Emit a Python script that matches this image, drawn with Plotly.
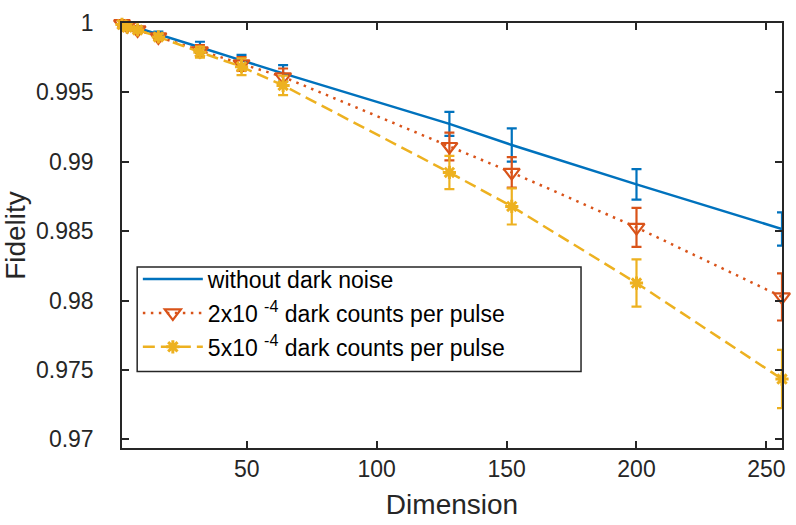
import plotly.graph_objects as go

dimension = [2, 4, 8, 16, 32, 48, 64, 128, 152, 200, 256]

fid_clean = [1.0, 0.99988, 0.99965, 0.99918, 0.99825, 0.99731, 0.99637, 0.99273, 0.99121, 0.98837, 0.98515]
err_clean = [0.00005, 0.0001, 0.0001, 0.0002, 0.0004, 0.0004, 0.0006, 0.00087, 0.0012, 0.0011, 0.0012]

fid_2e4 = [0.99995, 0.9998, 0.9995, 0.9990, 0.9980, 0.99705, 0.99612, 0.9911, 0.98923, 0.98527, 0.98026]
err_2e4 = [0.00005, 0.0001, 0.0001, 0.0002, 0.0004, 0.0005, 0.0006, 0.001, 0.0011, 0.0014, 0.0017]

fid_5e4 = [0.9999, 0.9997, 0.9995, 0.9990, 0.9979, 0.99685, 0.9955, 0.98923, 0.98678, 0.98126, 0.97434]
err_5e4 = [0.0001, 0.0001, 0.0001, 0.0002, 0.0004, 0.0006, 0.0007, 0.0012, 0.0013, 0.0017, 0.0021]

labels = ["without dark noise",
          "2x10 <sup>-4</sup> dark counts per pulse",
          "5x10 <sup>-4</sup> dark counts per pulse"]

y_tickvals = [0.97, 0.975, 0.98, 0.985, 0.99, 0.995, 1.0]
y_ticktext = ["0.97", "0.975", "0.98", "0.985", "0.99", "0.995", "1"]
x_tickvals = [50, 100, 150, 200, 250]

BLUE = "#0072BD"
ORANGE = "#D95319"
YELLOW = "#EDB120"
FONT = "Liberation Sans, Arial, Helvetica, sans-serif"

fig = go.Figure()

fig.add_trace(go.Scatter(
    x=dimension, y=fid_clean, name=labels[0], legendgroup="a", mode="lines", cliponaxis=False,
    line=dict(color=BLUE, width=2.5, dash="solid"),
    error_y=dict(type="data", array=err_clean, color=BLUE, thickness=2.2, width=5),
))
fig.add_trace(go.Scatter(
    x=dimension, y=fid_2e4, name=labels[1], legendgroup="b", mode="lines+markers", cliponaxis=False,
    line=dict(color=ORANGE, width=2.5, dash="2.5px,5.5px"),
    marker=dict(symbol="triangle-down-open", size=14, color=ORANGE, line=dict(width=2.2, color=ORANGE)),
    error_y=dict(type="data", array=err_2e4, color=ORANGE, thickness=2.2, width=5),
))
fig.add_trace(go.Scatter(
    x=dimension, y=fid_5e4, name=labels[2], legendgroup="c", mode="lines+markers", cliponaxis=False,
    line=dict(color=YELLOW, width=2.5, dash="12px,6px"),
    marker=dict(symbol="asterisk-open", size=11, color=YELLOW, line=dict(width=3, color=YELLOW)),
    error_y=dict(type="data", array=err_5e4, color=YELLOW, thickness=2.2, width=5),
))

axis_common = dict(
    showline=True, linecolor="#262626", linewidth=1.5, mirror="ticks",
    ticks="inside", ticklen=7, tickwidth=1.5, tickcolor="#262626",
    showgrid=False, zeroline=False, ticklabeloverflow="allow",
    tickfont=dict(family=FONT, size=23, color="#262626"),
)

fig.update_layout(
    width=796, height=525,
    margin=dict(l=122, r=11, t=10, b=76),
    paper_bgcolor="white", plot_bgcolor="white",
    font=dict(family=FONT, color="#262626"),
    xaxis=dict(range=[2, 256], tickvals=x_tickvals,
               title=dict(text="Dimension", font=dict(size=28), standoff=13), **axis_common),
    yaxis=dict(range=[0.96937, 1.000001], tickvals=y_tickvals, ticktext=y_ticktext,
               ticklabelstandoff=22,
               title=dict(text="Fidelity", font=dict(size=28), standoff=5), **axis_common),
    legend=dict(x=0.024, y=0.448, xanchor="left", yanchor="top",
                bgcolor="rgba(0,0,0,0)", borderwidth=0,
                font=dict(size=23, color="#000000"), tracegroupgap=1, itemwidth=60),
    showlegend=True,
    shapes=[dict(type="rect", xref="paper", yref="paper",
                 x0=0.023, x1=0.6955, y0=0.18, y1=0.426, layer="below",
                 fillcolor="white", line=dict(color="#262626", width=1.5))],
)

fig.write_html("out.html")
